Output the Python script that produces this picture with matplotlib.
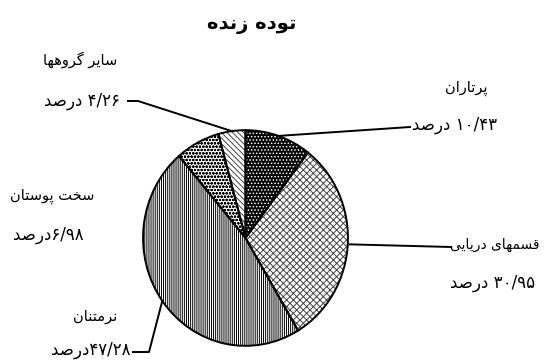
import re
import matplotlib
matplotlib.use("Agg")
import matplotlib.pyplot as plt
from matplotlib.patches import Wedge
import numpy as np

# ---------------- data ----------------
title = "توده زنده"
categories = ["پرتاران", "قسمهای دریایی", "نرمتنان", "سخت پوستان", "سایر گروهها"]
values = [10.43, 30.95, 47.28, 6.98, 4.26]
pct_labels = ["۱۰/۴۳ درصد", "۳۰/۹۵ درصد", "۴۷/۲۸درصد", "۶/۹۸درصد", "۴/۲۶ درصد"]

# ---------------- simple Arabic/Persian shaping + bidi ----------------
FORMS = {
    'ا': ('\uFE8D', '\uFE8E', None, None),
    'ب': ('\uFE8F', '\uFE90', '\uFE91', '\uFE92'),
    'ت': ('\uFE95', '\uFE96', '\uFE97', '\uFE98'),
    'خ': ('\uFEA5', '\uFEA6', '\uFEA7', '\uFEA8'),
    'د': ('\uFEA9', '\uFEAA', None, None),
    'ر': ('\uFEAD', '\uFEAE', None, None),
    'ز': ('\uFEAF', '\uFEB0', None, None),
    'س': ('\uFEB1', '\uFEB2', '\uFEB3', '\uFEB4'),
    'ص': ('\uFEB9', '\uFEBA', '\uFEBB', '\uFEBC'),
    'ق': ('\uFED5', '\uFED6', '\uFED7', '\uFED8'),
    'م': ('\uFEE1', '\uFEE2', '\uFEE3', '\uFEE4'),
    'ن': ('\uFEE5', '\uFEE6', '\uFEE7', '\uFEE8'),
    'ه': ('\uFEE9', '\uFEEA', '\uFEEB', '\uFEEC'),
    'و': ('\uFEED', '\uFEEE', None, None),
    'ی': ('\uFBFC', '\uFBFD', '\uFBFE', '\uFBFF'),
    'پ': ('\uFB56', '\uFB57', '\uFB58', '\uFB59'),
    'گ': ('\uFB92', '\uFB93', '\uFB94', '\uFB95'),
}


def shape(word):
    out = []
    n = len(word)
    for i, ch in enumerate(word):
        if ch not in FORMS:
            out.append(ch)
            continue
        iso, fin, ini, med = FORMS[ch]
        prev = word[i - 1] if i > 0 else None
        nxt = word[i + 1] if i < n - 1 else None
        jp = prev in FORMS and FORMS[prev][2] is not None
        jn = nxt in FORMS and ini is not None
        if jp and jn:
            out.append(med)
        elif jp:
            out.append(fin)
        elif jn:
            out.append(ini)
        else:
            out.append(iso)
    return ''.join(out)


DIG = '۰۱۲۳۴۵۶۷۸۹/'


def fa(s):
    runs = re.findall(r'[۰-۹/]+|[^۰-۹/]+', s)
    vis = []
    for r in runs:
        if r[0] in DIG:
            vis.append(r)
        else:
            vis.append(shape(r)[::-1])
    return ''.join(reversed(vis))


# ---------------- figure ----------------
plt.rcParams['font.family'] = ['DejaVu Sans']
plt.rcParams['hatch.linewidth'] = 0.7

W, H = 544, 360
fig = plt.figure(figsize=(W / 100, H / 100), dpi=100)
fig.patch.set_facecolor('white')

# pie axes (slightly elliptical as in reference)
px0, px1, py0, py1 = 141, 350, 128, 348
pax = fig.add_axes([px0 / W, 1 - py1 / H, (px1 - px0) / W, (py1 - py0) / H])

faces = ['black', 'white', 'white', 'white', 'white']
hatches = ['.....', 'xxxxx', '||||||||', 'ooooo', '\\\\\\\\\\\\']
hcolors = ['white', '#444444', 'black', 'black', '#444444']

wedges, _ = pax.pie(values, startangle=90, counterclock=False, radius=1,
                    colors=faces, wedgeprops=dict(linewidth=0))
for w, h, hc in zip(wedges, hatches, hcolors):
    w.set_hatch(h)
    w.set_edgecolor(hc)
    w.set_linewidth(0)
for w in wedges:
    pax.add_patch(Wedge(w.center, w.r, w.theta1, w.theta2, fill=False,
                        edgecolor='black', linewidth=1.4, zorder=3))
pax.set_aspect('auto')
pax.set_xlim(-1.02, 1.02)
pax.set_ylim(-1.02, 1.02)
pax.axis('off')

# overlay axes in pixel coordinates for labels and leader lines
ov = fig.add_axes([0, 0, 1, 1])
ov.set_xlim(0, W)
ov.set_ylim(H, 0)
ov.axis('off')


def edge_point(w):
    a = np.deg2rad((w.theta1 + w.theta2) / 2)
    p = pax.transData.transform((np.cos(a), np.sin(a)))
    return ov.transData.inverted().transform(p)


ckw = dict(fontsize=10.5, color='black')
pkw = dict(fontsize=12, color='black')

ov.text(252, 24, fa(title), ha='center', va='center', fontsize=14,
        fontweight='bold')

# پرتاران
e = edge_point(wedges[0])
ov.plot([e[0], 410], [e[1], 127], color='black', lw=1.4)
ov.text(466, 88, fa(categories[0]), ha='center', va='center', **ckw)
ov.text(412, 125, fa(pct_labels[0]), ha='left', va='center', **pkw)

# قسمهای دریایی
e = edge_point(wedges[1])
ov.plot([e[0], 451], [e[1], 247], color='black', lw=1.4)
ov.text(540, 245, fa(categories[1]), ha='right', va='center',
        fontsize=10, color='black')
ov.text(493, 283, fa(pct_labels[1]), ha='center', va='center', **pkw)

# نرمتنان
e = edge_point(wedges[2])
ov.plot([e[0], 149, 133], [e[1], 352, 352], color='black', lw=1.4)
ov.text(95, 316, fa(categories[2]), ha='center', va='center', **ckw)
ov.text(131, 350, fa(pct_labels[2]), ha='right', va='center', **pkw)

# سخت پوستان
ov.text(52, 196, fa(categories[3]), ha='center', va='center', **ckw)
ov.text(48, 235, fa(pct_labels[3]), ha='center', va='center', **pkw)

# سایر گروهها
e = edge_point(wedges[4])
ov.plot([128, 138, e[0]], [101, 101, e[1]], color='black', lw=1.4)
ov.text(80, 60, fa(categories[4]), ha='center', va='center', **ckw)
ov.text(120, 101, fa(pct_labels[4]), ha='right', va='center', **pkw)

fig.savefig('out.png', dpi=100, facecolor='white')
